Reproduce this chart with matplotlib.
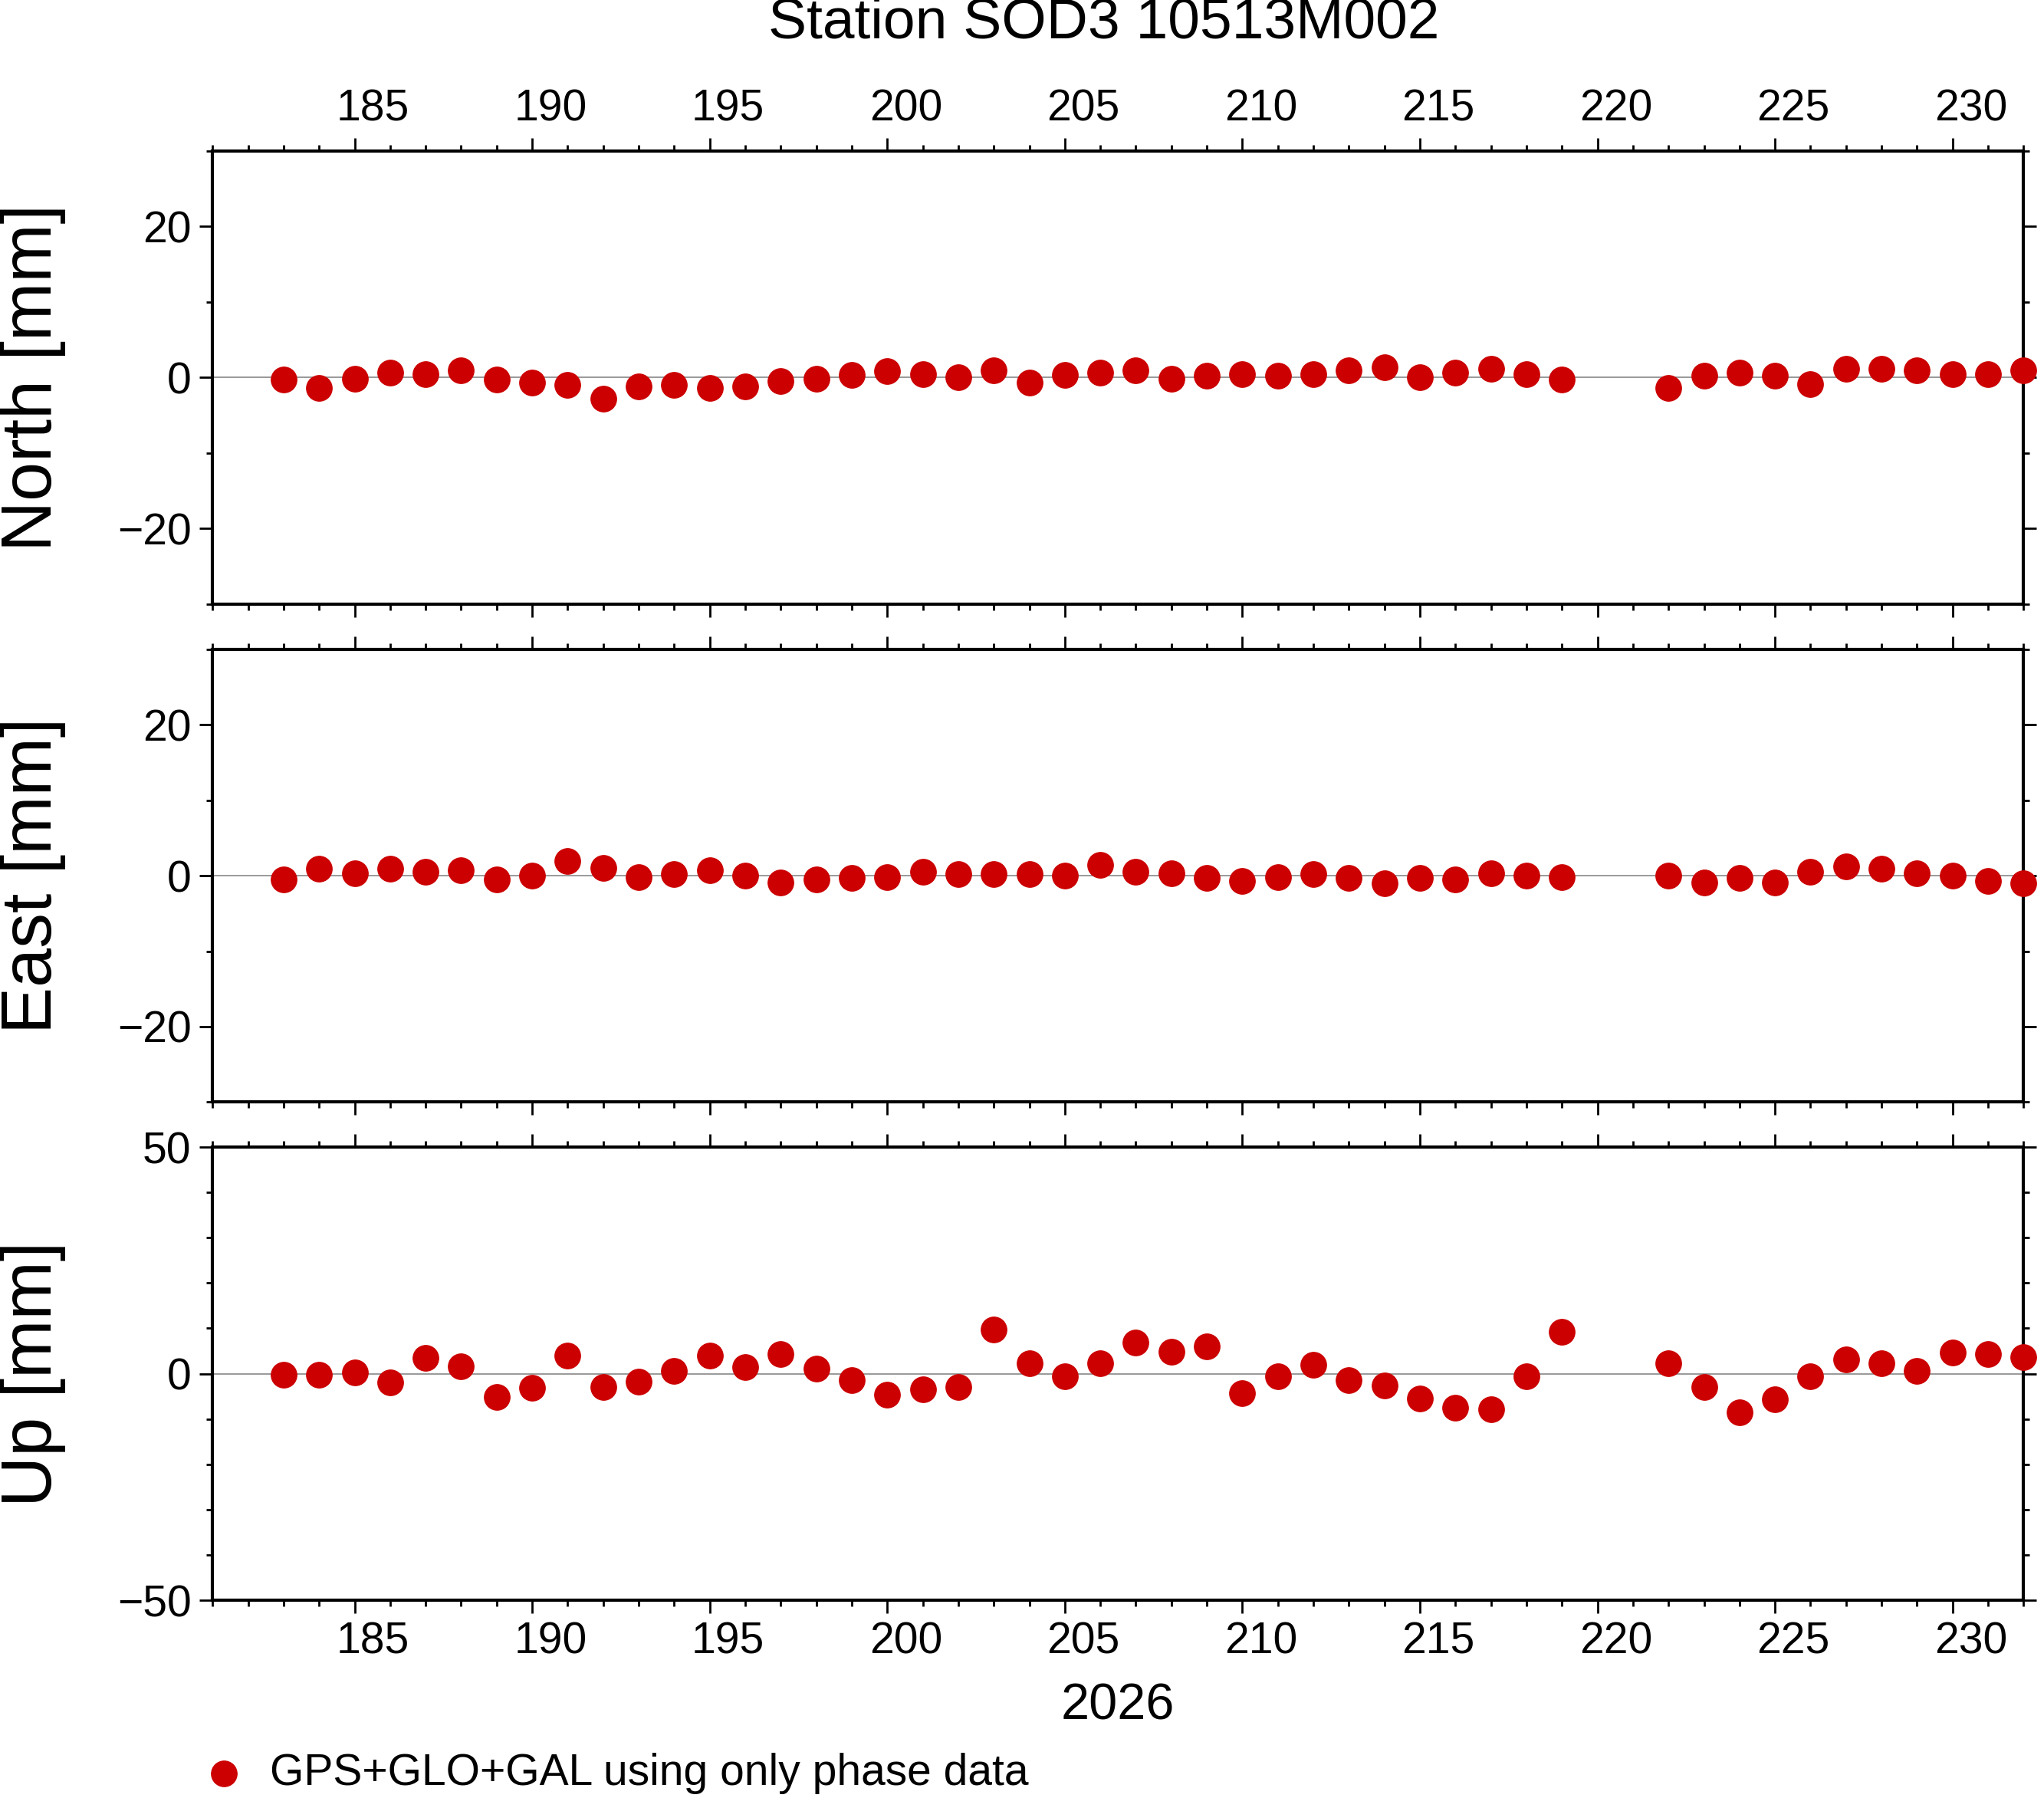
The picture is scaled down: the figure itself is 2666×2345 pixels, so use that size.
import matplotlib
matplotlib.use("Agg")
import matplotlib.pyplot as plt
from matplotlib.ticker import MultipleLocator
from matplotlib.transforms import ScaledTranslation

plt.rcParams['font.family'] = ['Liberation Sans', 'DejaVu Sans']

days = [183, 184, 185, 186, 187, 188, 189, 190, 191, 192, 193, 194, 195, 196, 197,
        198, 199, 200, 201, 202, 203, 204, 205, 206, 207, 208, 209, 210, 211, 212,
        213, 214, 215, 216, 217, 218, 219, 222, 223, 224, 225, 226, 227, 228, 229,
        230, 231, 232]
north = [-0.3, -1.4, -0.2, 0.7, 0.5, 1.0, -0.3, -0.7, -1.0, -2.8, -1.2, -1.0, -1.4, -1.2, -0.5,
         -0.2, 0.3, 0.9, 0.5, 0.0, 1.0, -0.7, 0.3, 0.7, 1.0, -0.2, 0.2, 0.5, 0.2, 0.5,
         1.0, 1.4, 0.0, 0.7, 1.2, 0.5, -0.3, -1.4, 0.2, 0.7, 0.2, -0.9, 1.2, 1.2, 1.0,
         0.5, 0.5, 1.0]
east = [-0.5, 0.9, 0.3, 0.9, 0.5, 0.7, -0.5, 0.0, 1.9, 1.0, -0.2, 0.2, 0.7, 0.0, -0.9,
        -0.5, -0.3, -0.2, 0.5, 0.2, 0.2, 0.2, 0.0, 1.4, 0.5, 0.3, -0.3, -0.7, -0.2, 0.2,
        -0.3, -1.0, -0.3, -0.5, 0.3, 0.0, -0.2, 0.0, -0.9, -0.3, -0.9, 0.5, 1.2, 0.9, 0.3,
        0.0, -0.7, -1.0]
up = [-0.3, -0.3, 0.3, -2.0, 3.4, 1.7, -5.2, -3.2, 4.0, -2.9, -1.7, 0.6, 4.0, 1.4, 4.3,
      1.1, -1.4, -4.6, -3.4, -2.9, 9.8, 2.3, -0.6, 2.3, 6.9, 4.9, 6.0, -4.3, -0.6, 2.0,
      -1.4, -2.6, -5.5, -7.5, -7.8, -0.6, 9.2, 2.3, -2.9, -8.6, -5.7, -0.6, 3.2, 2.3, 0.6,
      4.6, 4.3, 3.7]

names = ['North [mm]', 'East [mm]', 'Up [mm]']
series = [north, east, up]
limits = [30, 30, 50]
label_step = [20, 20, 50]
red = '#cc0000'

fig = plt.figure(figsize=(26.66, 23.45), dpi=100)
rects = [(0.916, 0.664), (0.639, 0.387), (0.362, 0.110)]
shift = ScaledTranslation(0.24, 0, fig.dpi_scale_trans)

for i, (top, bot) in enumerate(rects):
    ax = fig.add_axes([0.104, bot, 0.886, top - bot])
    ax.axhline(0, color='#888888', lw=1.2, zorder=1)
    ax.plot(days, series[i], 'o', color=red, ms=24, zorder=3, clip_on=False)
    ax.set_xlim(181, 232)
    lim = limits[i]
    ax.set_ylim(-lim, lim)
    ax.xaxis.set_major_locator(MultipleLocator(5))
    ax.xaxis.set_minor_locator(MultipleLocator(1))
    ax.yaxis.set_major_locator(MultipleLocator(label_step[i]))
    ax.yaxis.set_minor_locator(MultipleLocator(10))
    for s in ax.spines.values():
        s.set_linewidth(3)
    ax.tick_params(which='both', direction='out', width=2, top=True, bottom=True,
                   left=True, right=True, labelsize=41, pad=8)
    ax.tick_params(which='major', length=12)
    ax.tick_params(which='minor', length=6)
    ax.tick_params(axis='x', labeltop=(i == 0), labelbottom=(i == 2))
    ax.set_yticklabels([f'{int(v)}'.replace('-', '\u2212') for v in ax.get_yticks()])
    for lab in ax.get_xticklabels(which='major'):
        lab.set_transform(lab.get_transform() + shift)
    fig.text(0.016, (top + bot) / 2, names[i], rotation=90, ha='center', va='center',
             fontsize=66)

fig.text(0.54, 0.987, 'Station SOD3 10513M002', ha='center', va='center', fontsize=54)
fig.text(0.547, 0.051, '2026', ha='center', va='center', fontsize=48)
fig.lines.append(plt.Line2D([0.1097], [0.0138], marker='o', color=red, ms=24,
                            transform=fig.transFigure, figure=fig))
fig.text(0.132, 0.0138, 'GPS+GLO+GAL using only phase data', va='center', fontsize=41)

fig.savefig('out.png', dpi=100)
